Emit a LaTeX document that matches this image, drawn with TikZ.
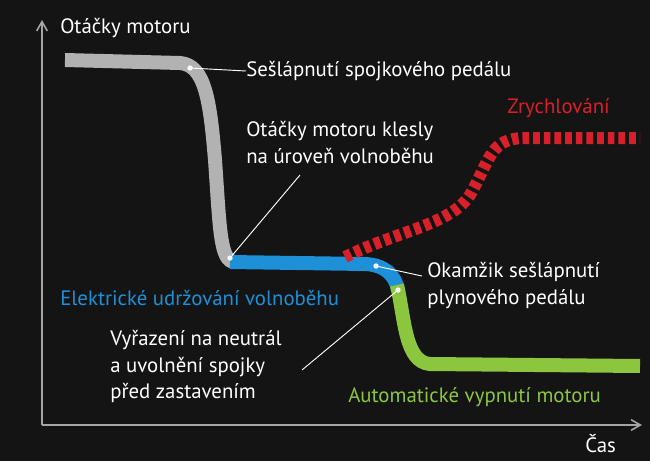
\documentclass[tikz,border=0pt]{standalone}
\usepackage{fontspec}
\setmainfont{PT Sans}
\usetikzlibrary{arrows.meta}
\definecolor{lg}{HTML}{8CC63F}
\definecolor{bl}{HTML}{1E90D8}
\definecolor{rd}{HTML}{D8202A}
\begin{document}
\begin{tikzpicture}[x=0.75pt,y=-0.75pt,
  lbl/.style={font=\fontsize{15.6}{20}\selectfont,text=white,align=left,inner sep=0pt},
  lead/.style={white,line width=0.7pt},
  axis/.style={gray!70,line width=1.2pt,-{Straight Barb[length=7pt,width=8pt]}}]
\fill[black!92] (0,0) rectangle (650,461);
\useasboundingbox (0,0) rectangle (650,461);
\coordinate (o) at (42,425);
\coordinate (yt) at (42,20);
\coordinate (xt) at (642,425);
\draw[axis] (o) -- (yt);
\draw[axis] (o) -- (xt);
% curves
\draw[gray!60,line width=10.5pt] (65,60) -- (180,63) .. controls (205,65) and (210,100) .. (215,160) .. controls (220,230) and (220,262) .. (235,262);
\draw[bl,line width=10.5pt] (230,262) -- (365,264) .. controls (385,265) and (395,275) .. (398,290);
\draw[lg,line width=10.5pt] (397,285) .. controls (405,320) and (405,362) .. (430,364) -- (640,366);
\draw[rd,line width=9pt,dash pattern=on 5pt off 3pt] (345,257) .. controls (400,230) and (450,225) .. (470,195) .. controls (490,160) and (490,138) .. (525,138) -- (640,138);
% points
\coordinate (p1) at (190,68);
\coordinate (p2) at (230,258);
\coordinate (p3) at (376,266);
\coordinate (p4) at (398,290);
% labels
\node[lbl,anchor=west] (t0) at (60,28) {Otáčky motoru};
\node[lbl,anchor=west] (t1) at (246,71) {Sešlápnutí spojkového pedálu};
\node[lbl,anchor=east,text=rd] (t2) at (610,108) {Zrychlování};
\node[lbl,anchor=north west] (t3) at (246,121) {Otáčky motoru klesly\\na úroveň volnoběhu};
\node[lbl,anchor=west,text=bl] (t4) at (60,298) {Elektrické udržování volnoběhu};
\node[lbl,anchor=north west] (t5) at (427,262) {Okamžik sešlápnutí\\plynového pedálu};
\node[lbl,anchor=north west] (t6) at (110,330) {Vyřazení na neutrál\\a uvolnění spojky\\před zastavením};
\node[lbl,anchor=west,text=lg] (t7) at (348,397) {Automatické vypnutí motoru};
\node[lbl,anchor=west] (t8) at (585,444) {Čas};
\coordinate (e3) at (300,175);
\coordinate (e5) at (422,276);
\coordinate (e6) at (302,370);
\draw[lead] (p1) -- (t1.west);
\draw[lead] (p2) -- (e3);
\draw[lead] (p3) -- (e5);
\draw[lead] (p4) -- (e6);
\foreach \p in {p1,p2,p3,p4} \fill[white] (\p) circle (2pt);
\end{tikzpicture}
\end{document}
